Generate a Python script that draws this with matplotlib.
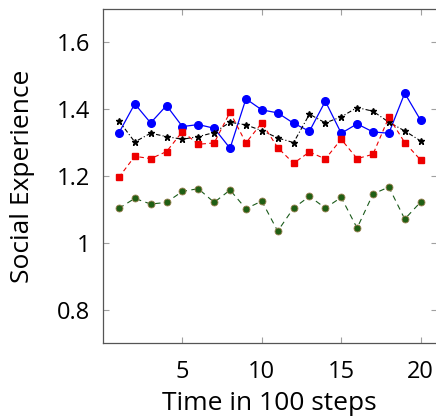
import matplotlib
matplotlib.use("Agg")
import matplotlib.pyplot as plt

plt.rcParams['font.family'] = ['Open Sans', 'DejaVu Sans']

x = list(range(1, 21))
blue = [1.329, 1.416, 1.359, 1.411, 1.348, 1.354, 1.343, 1.283, 1.431, 1.398,
        1.389, 1.358, 1.334, 1.424, 1.328, 1.356, 1.332, 1.328, 1.448, 1.367]
black = [1.365, 1.302, 1.328, 1.318, 1.310, 1.318, 1.330, 1.361, 1.353, 1.336,
         1.314, 1.300, 1.385, 1.359, 1.377, 1.405, 1.394, 1.361, 1.335, 1.305]
red = [1.196, 1.259, 1.252, 1.273, 1.333, 1.295, 1.299, 1.391, 1.299, 1.359,
       1.285, 1.238, 1.272, 1.251, 1.310, 1.252, 1.265, 1.376, 1.300, 1.248]
green = [1.103, 1.133, 1.116, 1.121, 1.154, 1.162, 1.121, 1.158, 1.102, 1.125,
         1.035, 1.104, 1.139, 1.104, 1.136, 1.044, 1.146, 1.167, 1.071, 1.122]

xticks = [5, 10, 15, 20]
yticks = [0.8, 1.0, 1.2, 1.4, 1.6]
yticklabels = ["0.8", "1", "1.2", "1.4", "1.6"]

fig = plt.figure(figsize=(4.36, 4.16), dpi=100)
ax = fig.add_axes([103/436, 73/416, 333.5/436, 334/416])

ax.plot(x, blue, color="#0000ff", lw=0.9, marker="o", ms=5.5)
ax.plot(x, black, color="black", lw=0.8, ls=(0, (4, 2, 1, 2)), marker="*", ms=5)
ax.plot(x, red, color="#ee0000", lw=0.8, ls=(0, (4, 3)), marker="s", ms=4.5)
ax.plot(x, green, color="#1a5a1a", lw=0.8, ls=(0, (5, 4)), marker="o", ms=5,
        markerfacecolor="#1f5f14", markeredgecolor="#9a8050", markeredgewidth=0.6)

ax.set_xlim(0, 21)
ax.set_ylim(0.7, 1.7)
ax.set_xticks(xticks)
ax.set_yticks(yticks)
ax.set_yticklabels(yticklabels)
ax.tick_params(direction="in", length=4, width=0.8, color="#a0a0a0",
               top=True, right=True, labelsize=17)
ax.tick_params(axis="x", pad=12)
ax.tick_params(axis="y", pad=9)
for s in ax.spines.values():
    s.set_color("#555555")
    s.set_linewidth(0.9)
ax.set_xlabel("Time in 100 steps", fontsize=19, labelpad=5)
ax.set_ylabel("Social Experience", fontsize=19, labelpad=16)

fig.savefig("out.png", dpi=100)
